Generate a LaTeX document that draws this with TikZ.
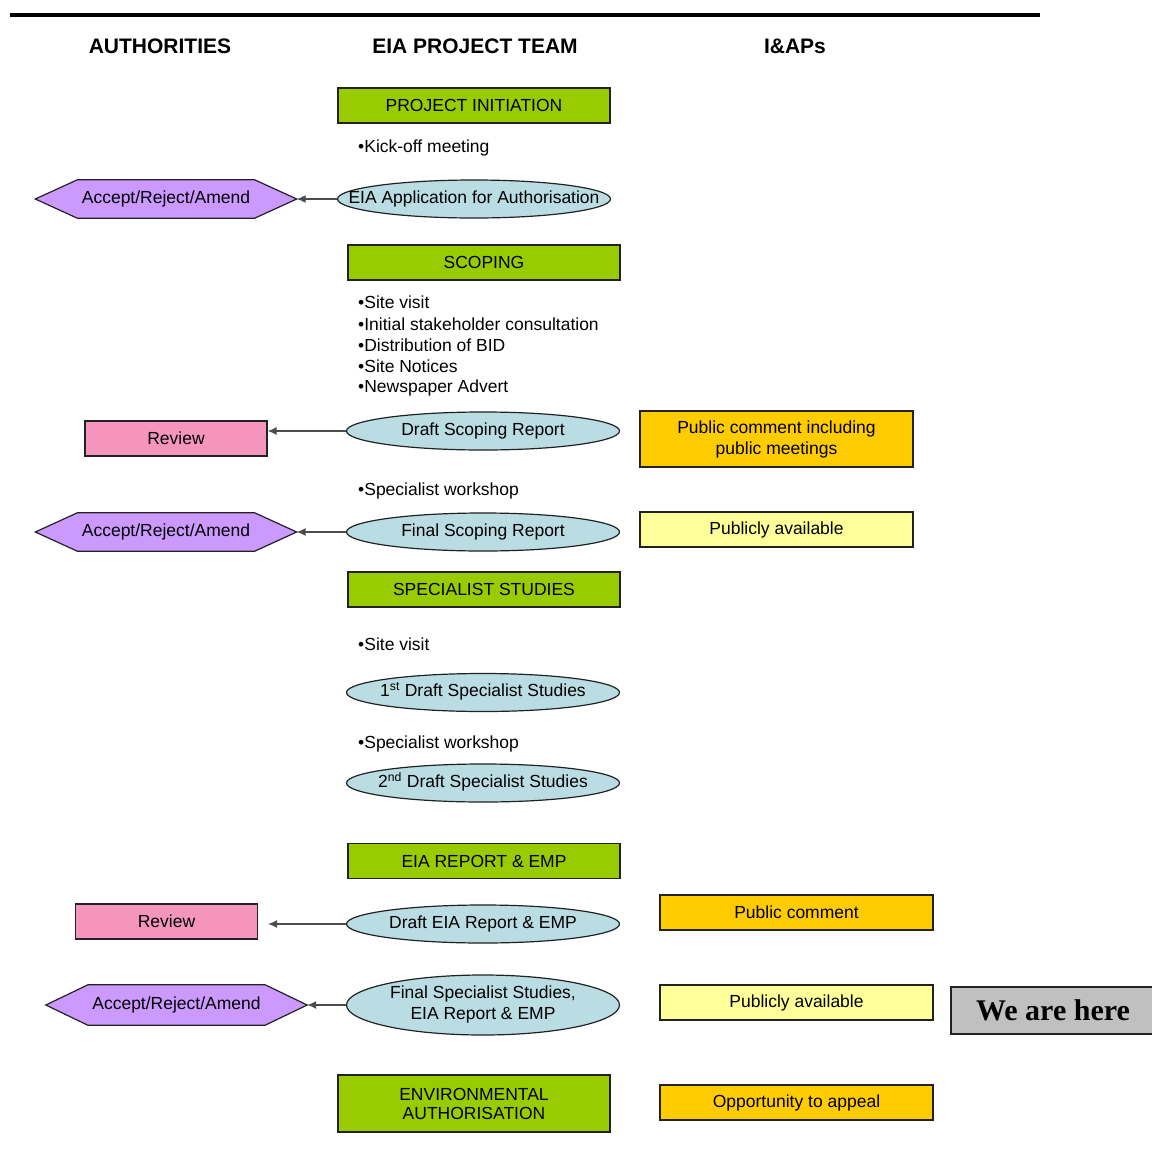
\documentclass[tikz,border=0pt]{standalone}
\usepackage{fontspec}
\setmainfont{Liberation Sans}
\newfontfamily\herefont{Liberation Serif}
\usetikzlibrary{shapes.geometric,arrows.meta,backgrounds,calc}
\definecolor{phasegreen}{HTML}{99CC00}
\definecolor{doccyan}{HTML}{B9DDE3}
\definecolor{hexpurple}{HTML}{CC99FF}
\definecolor{revpink}{HTML}{F595BD}
\definecolor{puborange}{HTML}{FFCC00}
\definecolor{pubyellow}{HTML}{FFFF99}
\definecolor{heregray}{HTML}{C0C0C0}
\definecolor{edge}{HTML}{222222}
\newcommand{\bodyfont}{\fontsize{17.5}{21}\selectfont}
\newcommand{\zw}[1]{\raisebox{-1.5pt}{\makebox[0pt]{\begin{tabular}{@{}c@{}}#1\end{tabular}}}}
\tikzset{
  phasebox/.style={draw=edge, line width=1.3pt, fill=phasegreen, minimum width=272pt, minimum height=35pt, inner sep=0pt, font=\bodyfont, align=center},
  docell/.style={ellipse, draw=edge, line width=1.2pt, fill=doccyan, minimum width=273pt, minimum height=38pt, inner sep=0pt, font=\bodyfont},
  reviewbox/.style={draw=edge, line width=1.3pt, fill=revpink, minimum width=182pt, minimum height=35pt, inner sep=0pt, font=\bodyfont},
  hexbox/.style={minimum width=261pt, minimum height=38pt, inner sep=0pt, font=\bodyfont},
  hexdraw/.style={draw=edge, line width=1.2pt, fill=hexpurple},
  pubbox/.style={draw=edge, line width=1.3pt, minimum width=273pt, minimum height=35pt, inner sep=0pt, font=\bodyfont, align=center},
  bulletline/.style={anchor=west, inner sep=0pt, font=\bodyfont},
  header/.style={inner sep=0pt, font=\fontsize{21}{24}\selectfont\bfseries},
  flow/.style={draw=black!70, line width=1.1pt, -{Latex[length=9pt,width=8pt]}}
}
\begin{document}
\begin{tikzpicture}[x=1pt,y=-1pt]
\useasboundingbox (0,0) rectangle (1152,1149);
\draw[line width=4pt] (10,15) -- (1040,15);

\node[header] (h1) at (160,46) {AUTHORITIES};
\node[header] (h2) at (475,46) {EIA PROJECT TEAM};
\node[header] (h3) at (795,46) {I\&APs};

\node[phasebox] (p1) at (474,105.5) {PROJECT INITIATION};
\node[bulletline] (b1) at (358,148) {•Kick-off meeting};
\node[docell] (d1) at (474,199) {\zw{EIA Application for Authorisation}};
\node[hexbox] (a1) at (166,199) {Accept/Reject/Amend};

\node[phasebox] (p2) at (484,262.5) {SCOPING};
\node[bulletline] (b2) at (358,302) {•Site visit};
\node[bulletline] (b3) at (358,324) {•Initial stakeholder consultation};
\node[bulletline] (b4) at (358,345) {•Distribution of BID};
\node[bulletline] (b5) at (358,366) {•Site Notices};
\node[bulletline] (b6) at (358,388) {•Newspaper Advert};

\node[docell] (d2) at (483,431) {\zw{Draft Scoping Report}};
\node[reviewbox] (r1) at (176,438.5) {Review};
\node[pubbox, fill=puborange, minimum height=56pt] (c1) at (776.5,439) {Public comment including\\public meetings};

\node[bulletline] (b7) at (358,491) {•Specialist workshop};
\node[docell] (d3) at (483,532) {\zw{Final Scoping Report}};
\node[hexbox] (a2) at (166,532) {Accept/Reject/Amend};
\node[pubbox, fill=pubyellow] (c2) at (776.5,529.5) {Publicly available};

\node[phasebox] (p3) at (484,589.5) {SPECIALIST STUDIES};
\node[bulletline] (b8) at (358,644) {•Site visit};
\node[docell] (d6) at (483,692.5) {\zw{1\textsuperscript{st} Draft Specialist Studies}};
\node[bulletline] (b9) at (358,744) {•Specialist workshop};
\node[docell] (d7) at (483,783) {\zw{2\textsuperscript{nd} Draft Specialist Studies}};

\node[phasebox] (p4) at (484,861) {EIA REPORT \& EMP};
\node[docell] (d4) at (483,924) {\zw{Draft EIA Report \& EMP}};
\node[reviewbox] (r2) at (166.5,921.5) {Review};
\node[pubbox, fill=puborange] (c3) at (796.5,912.5) {Public comment};

\node[docell, minimum height=60pt] (d5) at (483,1005) {\zw{Final Specialist Studies,\\EIA Report \& EMP}};
\node[hexbox, minimum height=40pt] (a3) at (176.5,1005) {Accept/Reject/Amend};
\node[pubbox, fill=pubyellow] (c4) at (796.5,1002.5) {Publicly available};
\node[draw=edge, line width=1.5pt, fill=heregray, minimum width=204pt, minimum height=47pt, inner sep=0pt, font=\herefont\fontsize{30}{34}\selectfont\bfseries] (wh) at (1053,1010.5) {We are here};

\node[phasebox, minimum height=57pt] (p5) at (474,1103.5) {ENVIRONMENTAL\\[-2pt]AUTHORISATION};
\node[pubbox, fill=puborange] (c5) at (796.5,1102.5) {Opportunity to appeal};

\begin{scope}[on background layer]
\foreach \h in {a1,a2,a3}
  \draw[hexdraw] (\h.west) -- ([xshift=42pt]\h.north west) -- ([xshift=-42pt]\h.north east)
    -- (\h.east) -- ([xshift=-42pt]\h.south east) -- ([xshift=42pt]\h.south west) -- cycle;
\end{scope}

\draw[flow] (d1.west) -- (a1.east);
\draw[flow] (d2.west) -- (d2.west -| r1.east);
\draw[flow] (d3.west) -- (a2.east);
\draw[flow, shorten >=10pt] (d4.west) -- (d4.west -| r2.east);
\draw[flow] (d5.west) -- (a3.east);
\end{tikzpicture}
\end{document}
